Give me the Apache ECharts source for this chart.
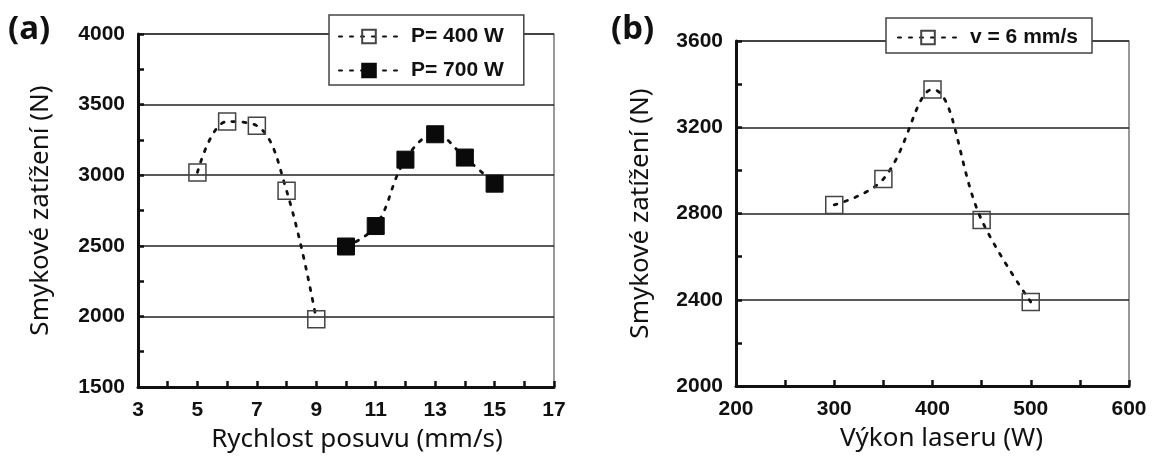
<!DOCTYPE html>
<html><head><meta charset="utf-8">
<script src="https://cdn.jsdelivr.net/npm/echarts@6/dist/echarts.min.js"></script>
<style>html,body{margin:0;padding:0;background:#fff}#c{width:1157px;height:459px}</style>
</head><body><div id="c"></div>
<script>
// Panel (a)
const speedP400 = [5, 6, 7, 8, 9];
const loadP400 = [3020, 3380, 3350, 2890, 1980];
const speedP700 = [10, 11, 12, 13, 14, 15];
const loadP700 = [2495, 2640, 3110, 3290, 3125, 2940];
// Panel (b)
const power = [300, 350, 400, 450, 500];
const loadV6 = [2840, 2960, 3375, 2770, 2390];

const names = { a: ['P= 400 W', 'P= 700 W'], b: ['v = 6 mm/s'] };
const titles = {
  ay: 'Smykové zatížení (N)', ax: 'Rychlost posuvu (mm/s)',
  by: 'Smykové zatížení (N)', bx: 'Výkon laseru (W)'
};

const pair = (xs, ys) => xs.map((x, i) => [x, ys[i]]);
const tickFont = { fontFamily: 'Liberation Sans', fontWeight: 'bold', fontSize: 21, color: '#111' };
const plain = v => String(v);

function xAxis(gi, min, max, interval, name, shift) {
  return {
    type: 'value', gridIndex: gi, min, max, interval, name,
    nameLocation: 'middle', nameGap: 40,
    nameTextStyle: { fontFamily: 'Noto Sans', fontSize: 26, color: '#111', padding: [0, 0, 0, shift] },
    axisLine: { show: true, lineStyle: { color: '#111', width: 3 } },
    axisTick: { show: true, inside: true, length: 6, lineStyle: { color: '#111', width: 2.5 } },
    minorTick: { show: true, splitNumber: 2, length: 6, lineStyle: { color: '#111', width: 2.5 } },
    axisLabel: Object.assign({ margin: 13, formatter: plain }, tickFont),
    splitLine: { show: false }
  };
}
function yAxis(gi, min, max, interval, name, gap) {
  return {
    type: 'value', gridIndex: gi, min, max, interval, name,
    nameLocation: 'middle', nameGap: gap,
    nameTextStyle: { fontFamily: 'Noto Sans', fontSize: 26, color: '#111' },
    axisLine: { show: true, lineStyle: { color: '#111', width: 3 } },
    axisTick: { show: true, inside: true, length: 6, lineStyle: { color: '#111', width: 2.5 } },
    minorTick: { show: true, splitNumber: 2, length: 6, lineStyle: { color: '#111', width: 2.5 } },
    axisLabel: Object.assign({ margin: 13, formatter: plain }, tickFont),
    splitLine: { show: true, lineStyle: { color: '#222', width: 1.5 } }
  };
}
const dotted = { color: '#111', width: 2.8, type: [3, 8], cap: 'round' };
function series(name, data, xi, filled) {
  return {
    name, type: 'line', xAxisIndex: xi, yAxisIndex: xi, data,
    smooth: 0.4, symbol: 'rect', symbolSize: 17,
    lineStyle: dotted,
    itemStyle: filled ? { color: '#0a0a0a', borderColor: '#0a0a0a', borderWidth: 1 }
                      : { color: 'rgba(255,255,255,0)', borderColor: '#444', borderWidth: 1.5 },
    emphasis: { disabled: true }, animation: false
  };
}
const legendBase = {
  orient: 'vertical', backgroundColor: '#fff', borderColor: '#444', borderWidth: 1.5,
  itemWidth: 60, itemHeight: 17, borderRadius: 0,
  textStyle: { fontFamily: 'Liberation Sans', fontWeight: 'bold', fontSize: 21, color: '#111', padding: [0, 0, 0, 7] }
};

const chart = echarts.init(document.getElementById('c'), null, { renderer: 'canvas' });
chart.setOption({
  animation: false,
  grid: [
    { left: 138, top: 34, width: 416, height: 353, show: true, borderColor: '#555', borderWidth: 1.2, backgroundColor: 'transparent' },
    { left: 736, top: 41, width: 393, height: 345, show: true, borderColor: '#555', borderWidth: 1.2, backgroundColor: 'transparent' }
  ],
  xAxis: [xAxis(0, 3, 17, 2, titles.ax, 22), xAxis(1, 200, 600, 100, titles.bx, 18)],
  yAxis: [yAxis(0, 1500, 4000, 500, titles.ay, 84), yAxis(1, 2000, 3600, 400, titles.by, 82)],
  legend: [
    Object.assign({ data: names.a, left: 329, top: 15, padding: [11, 20, 4, 9], itemGap: 13 }, legendBase),
    Object.assign({ data: names.b, left: 886, top: 18, padding: [9, 14, 5, 11], itemGap: 10 }, legendBase)
  ],
  series: [
    series(names.a[0], pair(speedP400, loadP400), 0, false),
    series(names.a[1], pair(speedP700, loadP700), 0, true),
    series(names.b[0], pair(power, loadV6), 1, false)
  ],
  graphic: [
    { type: 'text', left: 8, top: 13, style: { text: '(a)', font: 'bold 33px "Noto Sans"', fill: '#111' } },
    { type: 'text', left: 611, top: 13, style: { text: '(b)', font: 'bold 33px "Noto Sans"', fill: '#111' } }
  ]
});
</script></body></html>
